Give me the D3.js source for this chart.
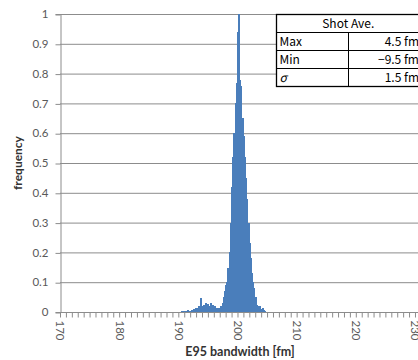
<!DOCTYPE html>
<html>
<head>
<meta charset="utf-8">
<script src="https://cdn.jsdelivr.net/npm/d3@7"></script>
<style>
  body { margin: 0; background: #fff; }
  svg { display: block; }
</style>
</head>
<body>
<script>
// histogram bins (bin centre in fm) and their frequency
const binCenters = [
  190.6, 190.8, 191.0, 191.2, 191.4, 191.6, 191.8, 192.0, 192.2, 192.4,
  192.6, 192.8, 193.0, 193.2, 193.4, 193.6, 193.8, 194.0, 194.2, 194.4,
  194.6, 194.8, 195.0, 195.2, 195.4, 195.6, 195.8, 196.0, 196.2, 196.4,
  196.6, 196.8, 197.0, 197.2, 197.4, 197.6, 197.8, 198.0, 198.2, 198.4,
  198.6, 198.8, 199.0, 199.2, 199.4, 199.6, 199.8, 200.0, 200.2, 200.4,
  200.6, 200.8, 201.0, 201.2, 201.4, 201.6, 201.8, 202.0, 202.2, 202.4,
  202.6, 202.8, 203.0, 203.2, 203.4, 203.6, 203.8, 204.0, 204.2, 204.4,
  204.6
];
const frequency = [
  0.003, 0.005, 0.003, 0.005, 0.004, 0.006, 0.004, 0.005, 0.008, 0.006,
  0.010, 0.008, 0.012, 0.015, 0.020, 0.015, 0.047, 0.020, 0.025, 0.018,
  0.030, 0.022, 0.028, 0.020, 0.030, 0.018, 0.022, 0.015, 0.020, 0.012,
  0.015, 0.010, 0.015, 0.020, 0.030, 0.050, 0.070, 0.090, 0.100, 0.148,
  0.200, 0.300, 0.420, 0.520, 0.600, 0.700, 0.770, 0.940, 1.000, 0.780,
  0.760, 0.650, 0.590, 0.520, 0.450, 0.380, 0.300, 0.230, 0.180, 0.130,
  0.100, 0.080, 0.050, 0.025, 0.020, 0.015, 0.020, 0.010, 0.015, 0.008,
  0.005
];
const binWidth = 0.2;

const yTicks = [0, 0.1, 0.2, 0.3, 0.4, 0.5, 0.6, 0.7, 0.8, 0.9, 1];
const xLabels = [170, 180, 190, 200, 210, 220, 230];
const xMinorTicks = d3.range(170, 231, 1);

const tableTitle = "Shot Ave.";
const tableNames = ["Max", "Min", "σ"];
const tableValues = ["4.5 fm", "\u22129.5 fm", "1.5 fm"];

const W = 418, H = 360;
const margin = { left: 60, right: -2, top: 14, bottom: 48 };

const svg = d3.select("body").append("svg")
    .attr("width", W)
    .attr("height", H);

svg.append("rect").attr("width", W).attr("height", H).attr("fill", "#fff");

const x = d3.scaleLinear()
    .domain([170, 230.85])
    .range([margin.left, W - margin.right]);

const y = d3.scaleLinear()
    .domain([0, 1])
    .range([H - margin.bottom, margin.top]);

const axisFont = "Lato, 'Open Sans', sans-serif";

// horizontal gridlines
svg.append("g")
    .selectAll("line")
    .data(yTicks.filter(d => d > 0))
    .enter()
    .append("line")
    .attr("x1", x(170))
    .attr("x2", W + 5)
    .attr("y1", d => y(d) + 0.5)
    .attr("y2", d => y(d) + 0.5)
    .attr("stroke", "#8c8c8c")
    .attr("stroke-width", 1);

// y axis
const yAxis = svg.append("g")
    .attr("transform", `translate(${x(170) + 0.5},0)`)
    .call(d3.axisLeft(y).tickValues(yTicks).tickSize(5).tickPadding(7)
        .tickFormat(d3.format("~g")));
yAxis.select(".domain").attr("stroke", "#8c8c8c");
yAxis.selectAll(".tick line").attr("stroke", "#8c8c8c").attr("transform", "translate(0,0.5)");
yAxis.selectAll("text")
    .attr("fill", "#595959")
    .style("font-family", axisFont)
    .style("font-size", "11.5px");

// bars
svg.append("g")
    .attr("shape-rendering", "crispEdges")
    .selectAll("rect")
    .data(binCenters)
    .enter()
    .append("rect")
    .attr("x", d => x(d - binWidth / 2))
    .attr("width", d => x(d + binWidth / 2) - x(d - binWidth / 2) + 0.8)
    .attr("y", (d, i) => y(frequency[i]))
    .attr("height", (d, i) => y(0) - y(frequency[i]))
    .attr("fill", "#4a7ebb");

// x axis
const xAxis = svg.append("g")
    .attr("transform", `translate(0,${y(0) + 0.5})`)
    .call(d3.axisBottom(x).tickValues(xMinorTicks).tickSize(5)
        .tickFormat(d => xLabels.includes(d) ? d : ""));
xAxis.select(".domain").attr("stroke", "#8c8c8c").attr("d", `M${x(170)},0H${W + 5}`);
xAxis.selectAll(".tick line").attr("stroke", "#8c8c8c");
xAxis.selectAll(".tick text")
    .attr("fill", "#595959")
    .attr("transform", "rotate(90)")
    .attr("x", 8)
    .attr("y", 0)
    .attr("dy", "0.35em")
    .attr("text-anchor", "start")
    .style("font-family", axisFont)
    .style("font-size", "11.5px");

// axis titles
svg.append("text")
    .attr("x", 240)
    .attr("y", 356)
    .attr("text-anchor", "middle")
    .style("font-family", axisFont)
    .style("font-weight", "bold")
    .style("font-size", "12.5px")
    .attr("fill", "#333")
    .text("E95 bandwidth [fm]");

svg.append("text")
    .attr("transform", `translate(22,${(y(0) + y(1)) / 2}) rotate(-90)`)
    .attr("text-anchor", "middle")
    .style("font-family", axisFont)
    .style("font-weight", "bold")
    .style("font-size", "12px")
    .attr("fill", "#333")
    .text("frequency");

// stats table
const tLeft = 276.5, tRight = 424, tSplit = 348.5, tTop = 14.5, rowH = 18;
const tableFont = "'Noto Sans CJK JP', 'DejaVu Sans', sans-serif";
const tbl = svg.append("g");
tbl.append("rect")
    .attr("x", tLeft).attr("y", tTop)
    .attr("width", tRight - tLeft).attr("height", rowH * (tableNames.length + 1))
    .attr("fill", "#fff").attr("stroke", "#000").attr("stroke-width", 1.3);
tbl.append("text")
    .attr("x", (tLeft + 420) / 2)
    .attr("y", tTop + rowH / 2)
    .attr("dy", "0.35em")
    .attr("text-anchor", "middle")
    .style("font-family", tableFont)
    .style("font-size", "12px")
    .text(tableTitle);
tableNames.forEach((name, i) => {
    const ry = tTop + rowH * (i + 1);
    tbl.append("line")
        .attr("x1", tLeft).attr("x2", tRight)
        .attr("y1", ry).attr("y2", ry)
        .attr("stroke", "#000").attr("stroke-width", 1);
    tbl.append("line")
        .attr("x1", tSplit).attr("x2", tSplit)
        .attr("y1", ry).attr("y2", ry + rowH)
        .attr("stroke", "#000").attr("stroke-width", 1);
    tbl.append("text")
        .attr("x", tLeft + 3)
        .attr("y", ry + rowH / 2)
        .attr("dy", "0.35em")
        .style("font-family", tableFont)
        .style("font-size", "12px")
        .style("font-style", name === "σ" ? "italic" : "normal")
        .text(name);
    tbl.append("text")
        .attr("x", 419)
        .attr("y", ry + rowH / 2)
        .attr("dy", "0.35em")
        .attr("text-anchor", "end")
        .style("font-family", tableFont)
        .style("font-size", "12px")
        .text(tableValues[i]);
});
</script>
</body>
</html>
